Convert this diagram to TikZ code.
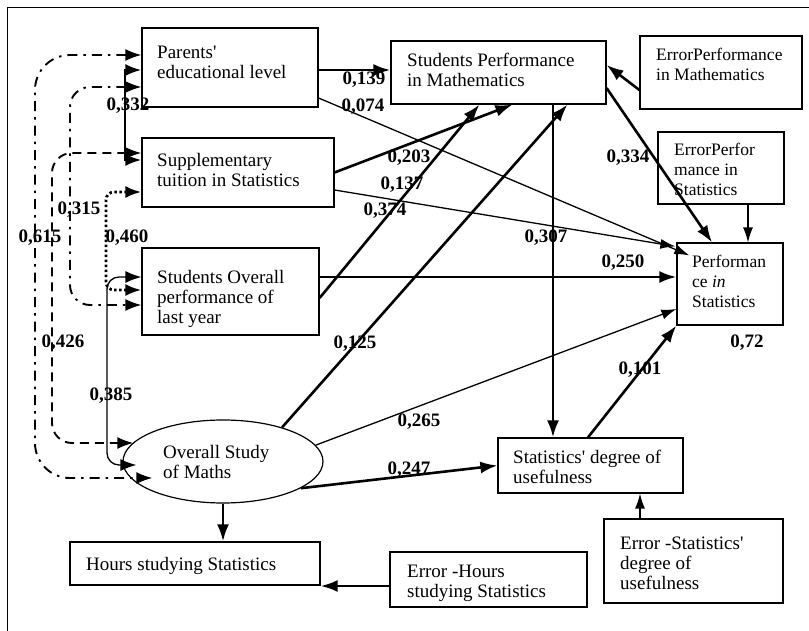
\documentclass[tikz,border=0pt]{standalone}
\usepackage{fontspec}
\setmainfont{Liberation Serif}
\usetikzlibrary{arrows.meta,calc,shapes.geometric}

\begin{document}
\begin{tikzpicture}[x=1pt,y=-1pt,
  box/.style={draw,line width=1.2pt,inner sep=0pt},
  txt/.style={anchor=north west,inner sep=0pt,align=left,font=\fontsize{19}{20}\selectfont},
  errtxt/.style={txt,font=\fontsize{17.5}{20}\selectfont},
  coef/.style={inner sep=0pt,font=\fontsize{19}{20}\selectfont\bfseries},
  arrbold/.style={line width=2.6pt,-{Latex[length=17pt,width=12pt]}},
  arrthin/.style={line width=1.3pt,-{Latex[length=15pt,width=10pt]}},
  corr/.style={{Latex[length=16pt,width=12pt]}-{Latex[length=16pt,width=12pt]}},
  corrdd/.style={corr,line width=1.9pt,dash pattern=on 10pt off 6pt on 2.5pt off 6pt},
  corrdash/.style={corr,line width=1.9pt,dash pattern=on 9pt off 6pt},
  corrdot/.style={corr,line width=2.8pt,dash pattern=on 2.5pt off 2.5pt},
  corrsolid/.style={corr,line width=1.3pt}]
\useasboundingbox (0,0) rectangle (809,631);

%Frame
\draw[line width=1pt] (7,631) -- (7,8) -- (809,8);

%Shapes
\node[box,minimum width=176pt,minimum height=79pt] (par) at (230,67.5) {};
\node[box,minimum width=192pt,minimum height=69pt] (supp) at (238,172.5) {};
\node[box,minimum width=177pt,minimum height=87pt] (sop) at (230.5,291.5) {};
\node[box,minimum width=215pt,minimum height=63pt] (spm) at (498.5,72.5) {};
\node[box,minimum width=162pt,minimum height=73pt] (epm) at (721,72.5) {};
\node[box,minimum width=126pt,minimum height=72pt] (eps) at (721,168) {};
\node[box,minimum width=106pt,minimum height=82pt] (pis) at (730,284) {};
\node[box,minimum width=185pt,minimum height=55pt] (useful) at (590.5,465.5) {};
\node[box,minimum width=179pt,minimum height=84pt] (eus) at (693.5,561) {};
\node[box,minimum width=197pt,minimum height=55pt] (ehs) at (488.5,579.5) {};
\node[box,minimum width=250pt,minimum height=43pt] (hrs) at (195,563.5) {};
\node[box,ellipse,minimum width=200pt,minimum height=83pt] (osm) at (223,461.5) {};

% Text Node
\node[txt] (part) at (157,46) {Parents\textquotesingle\\educational level};
\node[txt] (suppt) at (157,153) {Supplementary\\tuition in Statistics};
\node[txt] (sopt) at (157,270) {Students Overall\\performance of\\last year};
\node[txt] (spmt) at (407,53) {Students Performance\\in Mathematics};
\node[errtxt] (epmt) at (656,48) {ErrorPerformance\\in Mathematics};
\node[errtxt] (epst) at (674,143) {ErrorPerfor\\mance in\\Statistics};
\node[errtxt] (pist) at (692,255) {Performan\\ce \textit{in}\\Statistics};
\node[txt] (usefult) at (513,450) {Statistics\textquotesingle\ degree of\\usefulness};
\node[txt] (eust) at (620,537) {Error -Statistics\textquotesingle\\degree of\\usefulness};
\node[txt] (ehst) at (407,565) {Error -Hours\\studying Statistics};
\node[txt] (hrst) at (86,557) {Hours studying Statistics};
\node[txt] (osmt) at (163,445) {Overall Study\\of Maths};

%Straight Lines
\draw[arrbold] (par.east |- 0,70) -- (spm.west |- 0,70);
\draw[arrthin] (par.east |- 0,98) -- ($(pis.north west)+(13,13)$);
\draw[arrbold] (supp.east) -- ($(spm.south west)+(122,0)$);
\draw[arrthin] (supp.east |- 0,190) -- ($(pis.north west)+(-1,4)$);
\draw[arrbold] (sop.east |- 0,277) -- (pis.west |- 0,277);
\draw[arrbold] (sop.east |- 0,298) -- ($(spm.south west)+(89,0)$);
\draw[arrbold] (osm.30) -- ($(spm.south west)+(177,0)$);
\draw[arrbold] (spm.south -| 553,0) -- (useful.north -| 553,0);
\draw[arrbold] (spm.east |- 0,88) -- (pis.north -| 712,0);
\draw[arrbold] (epm.west |- 0,90) -- (spm.east |- 0,65);
\draw[arrthin] (eps.south -| 748,0) -- (pis.north -| 748,0);
\draw[arrthin] (osm.10) -- (pis.west |- 0,309);
\draw[arrbold] (osm.341) -- (useful.west);
\draw[arrbold] (useful.north -| 588,0) -- (pis.south west);
\draw[arrthin] (eus.north -| 640,0) -- (useful.south -| 640,0);
\draw[arrbold] (osm.south) -- (hrs.north -| osm.south);
\draw[arrbold] (ehs.west |- 0,586) -- (hrs.east |- 0,586);

%Correlations
\draw[corr,line width=2.6pt] (par.west |- 0,70) -| (125,160) -- (supp.west |- 0,160);
\draw[corrdd,rounded corners=35pt] (par.west |- 0,55) -| (35,478) -- ($(osm.west)+(30,16.5)$);
\draw[corrdash,rounded corners=20pt] (supp.west |- 0,153) -| (52,443) -- ($(osm.west)+(11,-18.5)$);
\draw[corrdd,rounded corners=20pt] (par.west |- 0,87) -| (70,305) -- (sop.west |- 0,305);
\draw[corrdot,rounded corners=8pt] (supp.west |- 0,192) -| (106,290) -- (sop.west |- 0,290);
\draw[corrsolid,rounded corners=12pt] (sop.west |- 0,277) -| (107,465) -- ($(osm.west)+(14,3.5)$);

% Text Node
\node[coef] (c139) at (364,80) {0,139};
\node[coef] (c074) at (363,107) {0,074};
\node[coef] (c332) at (128,106) {0,332};
\node[coef] (c203) at (409,158) {0,203};
\node[coef] (c137) at (402,185) {0,137};
\node[coef] (c374) at (385,211) {0,374};
\node[coef] (c315) at (79,210) {0,315};
\node[coef] (c615) at (40,238) {0,615};
\node[coef] (c460) at (127,238) {0,460};
\node[coef] (c250) at (623,263) {0,250};
\node[coef] (c307) at (546,238) {0,307};
\node[coef] (c334) at (628,158) {0,334};
\node[coef] (c426) at (63,343) {0,426};
\node[coef] (c385) at (111,396) {0,385};
\node[coef] (c125) at (355,344) {0,125};
\node[coef] (c265) at (419,422) {0,265};
\node[coef] (c247) at (409,470) {0,247};
\node[coef] (c101) at (640,370) {0,101};
\node[coef] (c72) at (747,343) {0,72};

\end{tikzpicture}
\end{document}
